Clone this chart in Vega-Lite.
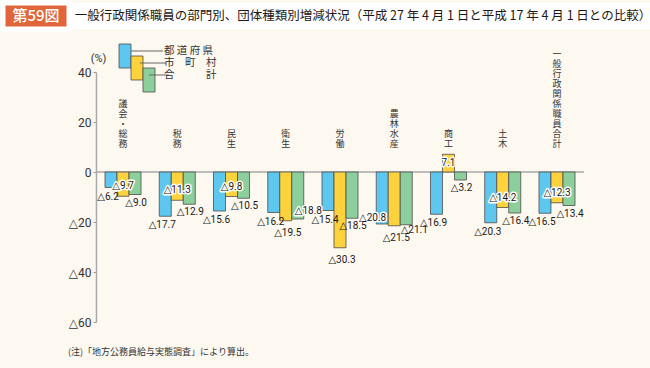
{
  "$schema": "https://vega.github.io/schema/vega-lite/v6.json",
  "background": "#fdf8f0",
  "padding": {"left": 0, "top": 0, "right": 0, "bottom": 14},
  "spacing": 69,
  "bounds": "flush",
  "config": {"view": {"stroke": null}, "font": "Noto Sans CJK JP"},
  "datasets": {
    "bars": [
      {"部門":"議会・総務","団体":"都道府県","値":-6.2,"label":"△6.2"},
      {"部門":"議会・総務","団体":"市町村","値":-9.7,"label":"△9.7"},
      {"部門":"議会・総務","団体":"合計","値":-9.0,"label":"△9.0"},
      {"部門":"税務","団体":"都道府県","値":-17.7,"label":"△17.7"},
      {"部門":"税務","団体":"市町村","値":-11.3,"label":"△11.3"},
      {"部門":"税務","団体":"合計","値":-12.9,"label":"△12.9"},
      {"部門":"民生","団体":"都道府県","値":-15.6,"label":"△15.6"},
      {"部門":"民生","団体":"市町村","値":-9.8,"label":"△9.8"},
      {"部門":"民生","団体":"合計","値":-10.5,"label":"△10.5"},
      {"部門":"衛生","団体":"都道府県","値":-16.2,"label":"△16.2"},
      {"部門":"衛生","団体":"市町村","値":-19.5,"label":"△19.5"},
      {"部門":"衛生","団体":"合計","値":-18.8,"label":"△18.8"},
      {"部門":"労働","団体":"都道府県","値":-15.4,"label":"△15.4"},
      {"部門":"労働","団体":"市町村","値":-30.3,"label":"△30.3"},
      {"部門":"労働","団体":"合計","値":-18.5,"label":"△18.5"},
      {"部門":"農林水産","団体":"都道府県","値":-20.8,"label":"△20.8"},
      {"部門":"農林水産","団体":"市町村","値":-21.5,"label":"△21.5"},
      {"部門":"農林水産","団体":"合計","値":-21.1,"label":"△21.1"},
      {"部門":"商工","団体":"都道府県","値":-16.9,"label":"△16.9"},
      {"部門":"商工","団体":"市町村","値":7.1,"label":"7.1"},
      {"部門":"商工","団体":"合計","値":-3.2,"label":"△3.2"},
      {"部門":"土木","団体":"都道府県","値":-20.3,"label":"△20.3"},
      {"部門":"土木","団体":"市町村","値":-14.2,"label":"△14.2"},
      {"部門":"土木","団体":"合計","値":-16.4,"label":"△16.4"},
      {"部門":"一般行政関係職員合計","団体":"都道府県","値":-16.5,"label":"△16.5"},
      {"部門":"一般行政関係職員合計","団体":"市町村","値":-12.3,"label":"△12.3"},
      {"部門":"一般行政関係職員合計","団体":"合計","値":-13.4,"label":"△13.4"}
    ],
    "legend": [
      {"部門":"議会・総務","団体":"都道府県","top":51.2,"bottom":41.6,"text":"都 道 府 県"},
      {"部門":"議会・総務","団体":"市町村","top":46.4,"bottom":36.8,"text":"市　町　村"},
      {"部門":"議会・総務","団体":"合計","top":41.6,"bottom":32,"text":"合　　　計"}
    ],
    "cats": [
      {"部門":"議会・総務","label":["議","会","・","総","務"]},
      {"部門":"税務","label":["税","務"]},
      {"部門":"民生","label":["民","生"]},
      {"部門":"衛生","label":["衛","生"]},
      {"部門":"労働","label":["労","働"]},
      {"部門":"農林水産","label":["農","林","水","産"]},
      {"部門":"商工","label":["商","工"]},
      {"部門":"土木","label":["土","木"]},
      {"部門":"一般行政関係職員合計","label":["一","般","行","政","関","係","職","員","合","計"]}
    ]
  },
  "vconcat": [
    {
      "hconcat": [
        {
          "width": 66, "height": 26,
          "view": {"fill": "#e0663a", "stroke": "#ffffff", "strokeWidth": 5},
          "data": {"values": [{"t": "第59図"}]},
          "mark": {"type": "text", "color": "#ffffff", "fontSize": 15, "fontWeight": 500, "font": "Noto Sans CJK JP"},
          "encoding": {"text": {"field": "t"}}
        },
        {
          "width": 584, "height": 26,
          "view": {"fill": "#ffffff", "stroke": null},
          "data": {"values": [{"t": "一般行政関係職員の部門別、団体種類別増減状況（平成 27 年 4 月 1 日と平成 17 年 4 月 1 日との比較）"}]},
          "mark": {"type": "text", "color": "#231815", "fontSize": 12.5, "dx": 2, "font": "Noto Sans CJK JP"},
          "encoding": {"text": {"field": "t"}}
        }
      ],
      "spacing": 0,
      "bounds": "flush"
    },
    {
      "hconcat": [
        {
          "width": 93, "height": 250,
          "data": {"values": [{}]},
          "mark": {"type": "text", "text": ""}
        },
        {
          "width": 488, "height": 250,
          "title": {"text": "(注)「地方公務員給与実態調査」により算出。", "orient": "bottom", "anchor": "start", "frame": "group", "dx": -28, "offset": 20, "fontSize": 9, "fontWeight": "normal", "color": "#333333", "font": "Noto Sans CJK JP"},
          "resolve": {"scale": {"xOffset": "independent"}},
          "layer": [
            {
              "layer": [
                {
                  "data": {"values": [{"z": 0}]},
                  "mark": {"type": "rule", "color": "#aaaaaa", "strokeWidth": 1.5},
                  "encoding": {"y": {"field": "z", "type": "quantitative", "scale": {"domain": [-60, 40], "nice": false},
                    "axis": {"values": [-60,-40,-20,0,20,40], "labelExpr": "datum.value < 0 ? '△' + (-datum.value) : datum.value", "grid": false, "domainColor": "#aaaaaa", "domainWidth": 1.5, "tickColor": "#999999", "tickSize": 3, "labelPadding": 2, "labelFontSize": 12, "labelColor": "#333333", "labelFont": "Roboto, DejaVu Sans", "title": "(%)", "titleAngle": 0, "titleX": 2, "titleY": -14, "titleAlign": "center", "titleBaseline": "middle", "titleFontSize": 11, "titleFontWeight": "normal", "titleColor": "#333333", "titleFont": "Roboto, DejaVu Sans"}}}
                },
                {
                  "data": {"name": "bars"},
                  "mark": {"type": "bar", "stroke": "#4d4d4d", "strokeWidth": 0.8},
                  "encoding": {
                    "x": {"field": "部門", "type": "nominal", "scale": {"domain": ["議会・総務","税務","民生","衛生","労働","農林水産","商工","土木","一般行政関係職員合計"], "paddingInner": 0.336, "paddingOuter": 0.166}, "axis": null},
                    "xOffset": {"field": "団体", "type": "nominal", "scale": {"domain": ["都道府県","市町村","合計"], "paddingInner": 0, "paddingOuter": 0}},
                    "y": {"field": "値", "type": "quantitative"},
                    "color": {"field": "団体", "type": "nominal", "scale": {"domain": ["都道府県","市町村","合計"], "range": ["#5ec7f0","#fdd23c","#8dcf9c"]}, "legend": null}
                  }
                },
                {
                  "data": {"name": "cats"},
                  "transform": [{"filter": "length(datum.label) == 2"}],
                  "mark": {"type": "text", "baseline": "top", "lineHeight": 10, "fontSize": 9, "color": "#333333"},
                  "encoding": {"x": {"field": "部門", "type": "nominal", "axis": null}, "y": {"datum": 17, "type": "quantitative"}, "text": {"field": "label"}}
                },
                {
                  "data": {"name": "cats"},
                  "transform": [{"filter": "length(datum.label) == 4"}],
                  "mark": {"type": "text", "baseline": "top", "lineHeight": 10, "fontSize": 9, "color": "#333333"},
                  "encoding": {"x": {"field": "部門", "type": "nominal", "axis": null}, "y": {"datum": 25, "type": "quantitative"}, "text": {"field": "label"}}
                },
                {
                  "data": {"name": "cats"},
                  "transform": [{"filter": "length(datum.label) == 5"}],
                  "mark": {"type": "text", "baseline": "top", "lineHeight": 10, "fontSize": 9, "color": "#333333"},
                  "encoding": {"x": {"field": "部門", "type": "nominal", "axis": null}, "y": {"datum": 29, "type": "quantitative"}, "text": {"field": "label"}}
                },
                {
                  "data": {"name": "cats"},
                  "transform": [{"filter": "length(datum.label) == 10"}],
                  "mark": {"type": "text", "baseline": "top", "lineHeight": 10, "fontSize": 9, "color": "#333333"},
                  "encoding": {"x": {"field": "部門", "type": "nominal", "axis": null}, "y": {"datum": 49, "type": "quantitative"}, "text": {"field": "label"}}
                },
                {
                  "data": {"name": "bars"},
                  "transform": [{"filter": {"and": [{"field": "団体", "equal": "都道府県"}, {"not": {"field": "部門", "equal": "農林水産"}}]}}],
                  "mark": {"type": "text", "align": "center", "baseline": "middle", "dx": -3, "dy": 9, "fontSize": 10, "font": "Roboto, DejaVu Sans", "color": "#231815"},
                  "encoding": {"x": {"field": "部門", "type": "nominal", "axis": null}, "xOffset": {"field": "団体", "type": "nominal"}, "y": {"field": "値", "type": "quantitative"}, "text": {"field": "label"}}
                },
                {
                  "data": {"name": "bars"},
                  "transform": [{"filter": {"and": [{"field": "団体", "equal": "都道府県"}, {"field": "部門", "equal": "農林水産"}]}}],
                  "mark": {"type": "text", "align": "right", "baseline": "middle", "dx": 4, "dy": -6, "fontSize": 10, "font": "Roboto, DejaVu Sans", "color": "#ffffff", "stroke": "#ffffff", "strokeWidth": 3, "strokeJoin": "round"},
                  "encoding": {"x": {"field": "部門", "type": "nominal", "axis": null}, "xOffset": {"field": "団体", "type": "nominal"}, "y": {"field": "値", "type": "quantitative"}, "text": {"field": "label"}}
                },
                {
                  "data": {"name": "bars"},
                  "transform": [{"filter": {"and": [{"field": "団体", "equal": "都道府県"}, {"field": "部門", "equal": "農林水産"}]}}],
                  "mark": {"type": "text", "align": "right", "baseline": "middle", "dx": 4, "dy": -6, "fontSize": 10, "font": "Roboto, DejaVu Sans", "color": "#231815"},
                  "encoding": {"x": {"field": "部門", "type": "nominal", "axis": null}, "xOffset": {"field": "団体", "type": "nominal"}, "y": {"field": "値", "type": "quantitative"}, "text": {"field": "label"}}
                },
                {
                  "data": {"name": "bars"},
                  "transform": [{"filter": {"and": [{"field": "団体", "equal": "合計"}, {"not": {"field": "部門", "oneOf": ["衛生", "農林水産"]}}]}}],
                  "mark": {"type": "text", "align": "center", "baseline": "middle", "dx": 1, "dy": 8, "fontSize": 10, "font": "Roboto, DejaVu Sans", "color": "#231815"},
                  "encoding": {"x": {"field": "部門", "type": "nominal", "axis": null}, "xOffset": {"field": "団体", "type": "nominal"}, "y": {"field": "値", "type": "quantitative"}, "text": {"field": "label"}}
                },
                {
                  "data": {"name": "bars"},
                  "transform": [{"filter": {"and": [{"field": "団体", "equal": "合計"}, {"field": "部門", "equal": "農林水産"}]}}],
                  "mark": {"type": "text", "align": "center", "baseline": "middle", "dx": 8, "dy": 5, "fontSize": 10, "font": "Roboto, DejaVu Sans", "color": "#231815"},
                  "encoding": {"x": {"field": "部門", "type": "nominal", "axis": null}, "xOffset": {"field": "団体", "type": "nominal"}, "y": {"field": "値", "type": "quantitative"}, "text": {"field": "label"}}
                },
                {
                  "data": {"name": "bars"},
                  "transform": [{"filter": {"and": [{"field": "団体", "equal": "合計"}, {"field": "部門", "equal": "衛生"}]}}],
                  "mark": {"type": "text", "align": "left", "baseline": "middle", "dx": -3, "dy": -8, "fontSize": 10, "font": "Roboto, DejaVu Sans", "color": "#ffffff", "stroke": "#ffffff", "strokeWidth": 3, "strokeJoin": "round"},
                  "encoding": {"x": {"field": "部門", "type": "nominal", "axis": null}, "xOffset": {"field": "団体", "type": "nominal"}, "y": {"field": "値", "type": "quantitative"}, "text": {"field": "label"}}
                },
                {
                  "data": {"name": "bars"},
                  "transform": [{"filter": {"and": [{"field": "団体", "equal": "合計"}, {"field": "部門", "equal": "衛生"}]}}],
                  "mark": {"type": "text", "align": "left", "baseline": "middle", "dx": -3, "dy": -8, "fontSize": 10, "font": "Roboto, DejaVu Sans", "color": "#231815"},
                  "encoding": {"x": {"field": "部門", "type": "nominal", "axis": null}, "xOffset": {"field": "団体", "type": "nominal"}, "y": {"field": "値", "type": "quantitative"}, "text": {"field": "label"}}
                },
                {
                  "data": {"name": "bars"},
                  "transform": [{"filter": {"and": [{"field": "団体", "equal": "市町村"}, {"field": "値", "lte": -15}]}}],
                  "mark": {"type": "text", "align": "center", "baseline": "middle", "dx": 2, "dy": 12, "fontSize": 10, "font": "Roboto, DejaVu Sans", "color": "#231815"},
                  "encoding": {"x": {"field": "部門", "type": "nominal", "axis": null}, "xOffset": {"field": "団体", "type": "nominal"}, "y": {"field": "値", "type": "quantitative"}, "text": {"field": "label"}}
                },
                {
                  "data": {"name": "bars"},
                  "transform": [{"filter": {"and": [{"field": "団体", "equal": "市町村"}, {"field": "値", "gt": -15}, {"field": "値", "lt": 0}]}}],
                  "mark": {"type": "text", "align": "center", "baseline": "middle", "dy": -10, "fontSize": 10, "font": "Roboto, DejaVu Sans", "color": "#ffffff", "stroke": "#ffffff", "strokeWidth": 3, "strokeJoin": "round"},
                  "encoding": {"x": {"field": "部門", "type": "nominal", "axis": null}, "xOffset": {"field": "団体", "type": "nominal"}, "y": {"field": "値", "type": "quantitative"}, "text": {"field": "label"}}
                },
                {
                  "data": {"name": "bars"},
                  "transform": [{"filter": {"and": [{"field": "団体", "equal": "市町村"}, {"field": "値", "gt": -15}, {"field": "値", "lt": 0}]}}],
                  "mark": {"type": "text", "align": "center", "baseline": "middle", "dy": -10, "fontSize": 10, "font": "Roboto, DejaVu Sans", "color": "#231815"},
                  "encoding": {"x": {"field": "部門", "type": "nominal", "axis": null}, "xOffset": {"field": "団体", "type": "nominal"}, "y": {"field": "値", "type": "quantitative"}, "text": {"field": "label"}}
                },
                {
                  "data": {"name": "bars"},
                  "transform": [{"filter": {"and": [{"field": "団体", "equal": "市町村"}, {"field": "値", "gt": 0}]}}],
                  "mark": {"type": "text", "align": "center", "baseline": "middle", "dy": 9, "fontSize": 10, "font": "Roboto, DejaVu Sans", "color": "#ffffff", "stroke": "#ffffff", "strokeWidth": 3, "strokeJoin": "round"},
                  "encoding": {"x": {"field": "部門", "type": "nominal", "axis": null}, "xOffset": {"field": "団体", "type": "nominal"}, "y": {"field": "値", "type": "quantitative"}, "text": {"field": "label"}}
                },
                {
                  "data": {"name": "bars"},
                  "transform": [{"filter": {"and": [{"field": "団体", "equal": "市町村"}, {"field": "値", "gt": 0}]}}],
                  "mark": {"type": "text", "align": "center", "baseline": "middle", "dy": 9, "fontSize": 10, "font": "Roboto, DejaVu Sans", "color": "#231815"},
                  "encoding": {"x": {"field": "部門", "type": "nominal", "axis": null}, "xOffset": {"field": "団体", "type": "nominal"}, "y": {"field": "値", "type": "quantitative"}, "text": {"field": "label"}}
                }
              ]
            },
            {
              "data": {"name": "legend"},
              "mark": {"type": "bar", "stroke": "#4d4d4d", "strokeWidth": 0.8},
              "encoding": {
                "x": {"field": "部門", "type": "nominal", "axis": null},
                "xOffset": {"field": "団体", "type": "nominal", "scale": {"domain": ["都道府県","市町村","合計"], "range": [14, 50]}},
                "y": {"field": "top", "type": "quantitative"},
                "y2": {"field": "bottom"},
                "color": {"field": "団体", "type": "nominal", "legend": null}
              }
            },
            {
              "data": {"name": "legend"},
              "mark": {"type": "tick", "thickness": 1, "color": "#666666", "yOffset": 7, "opacity": 1},
              "encoding": {
                "x": {"field": "部門", "type": "nominal", "axis": null},
                "xOffset": {"field": "団体", "type": "nominal", "scale": {"domain": ["都道府県","市町村","合計"], "range": [39, 57]}},
                "y": {"field": "top", "type": "quantitative"},
                "size": {"field": "団体", "type": "ordinal", "scale": {"domain": ["都道府県","市町村","合計"], "range": [32, 20, 8]}, "legend": null}
              }
            },
            {
              "data": {"name": "legend"},
              "mark": {"type": "text", "align": "left", "baseline": "middle", "dx": 41, "dy": 7, "fontSize": 10.5, "color": "#333333", "font": "Noto Sans CJK JP"},
              "encoding": {
                "x": {"field": "部門", "type": "nominal", "axis": null},
                "y": {"field": "top", "type": "quantitative"},
                "text": {"field": "text"}
              }
            }
          ]
        }
      ],
      "spacing": 0,
      "bounds": "flush"
    }
  ]
}
